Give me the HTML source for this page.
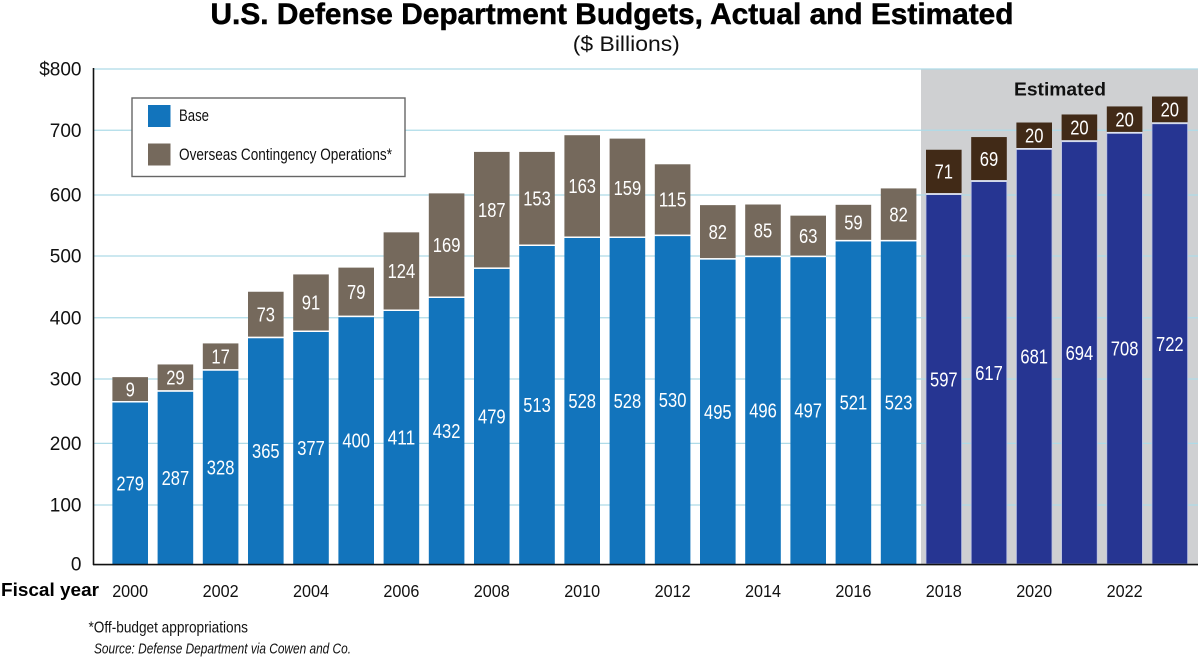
<!DOCTYPE html>
<html lang="en">
<head>
<meta charset="utf-8">
<title>U.S. Defense Department Budgets, Actual and Estimated</title>
<style>
html,body{margin:0;padding:0;background:#fff;}
svg{display:block;font-family:"Liberation Sans",Arial,sans-serif;}
</style>
</head>
<body>
<svg id="chart" xmlns="http://www.w3.org/2000/svg" width="1200" height="658" viewBox="0 0 1200 658">
  <rect x="0" y="0" width="1200" height="658" fill="#ffffff"/>
  <text x="612" y="24" text-anchor="middle" font-size="29.5" font-weight="700" fill="#000" stroke="#000" stroke-width="0.5" textLength="803" lengthAdjust="spacingAndGlyphs">U.S. Defense Department Budgets, Actual and Estimated</text>
  <text x="626.3" y="51" text-anchor="middle" font-size="21.5" fill="#111" textLength="107" lengthAdjust="spacingAndGlyphs">($ Billions)</text>
  <rect x="921" y="69" width="277" height="495" fill="#cfd0d2"/>
  <g id="grid-layer"></g>
  <g id="bar-layer"></g>
  <g id="tick-layer"></g>
  <line x1="93.5" y1="68" x2="93.5" y2="565" stroke="#111" stroke-width="1.6"/>
  <line x1="93" y1="564.6" x2="1198" y2="564.6" stroke="#111" stroke-width="1.6"/>
  <text x="1014" y="95.5" font-size="18.5" font-weight="700" fill="#111" textLength="92" lengthAdjust="spacingAndGlyphs">Estimated</text>
  <text x="1" y="596" font-size="18" font-weight="700" fill="#000" textLength="98" lengthAdjust="spacingAndGlyphs">Fiscal year</text>
  <g>
    <rect x="132" y="98" width="273" height="78.5" fill="#fff" stroke="#666" stroke-width="1.4"/>
    <rect x="148" y="105" width="22.5" height="22" fill="#1274bc"/>
    <text x="179" y="121" font-size="16.5" fill="#111" textLength="30" lengthAdjust="spacingAndGlyphs">Base</text>
    <rect x="148" y="143.500" width="22.5" height="22" fill="#75695c"/>
    <text x="179" y="160" font-size="16.5" fill="#111" textLength="213" lengthAdjust="spacingAndGlyphs">Overseas Contingency Operations*</text>
  </g>
  <text x="88.500" y="632.500" font-size="16" fill="#111" textLength="159.500" lengthAdjust="spacingAndGlyphs">*Off-budget appropriations</text>
  <text x="94" y="653.500" font-size="14.5" font-style="italic" fill="#111" textLength="257" lengthAdjust="spacingAndGlyphs">Source: Defense Department via Cowen and Co.</text>
</svg>
<script>
var years = [2000,2001,2002,2003,2004,2005,2006,2007,2008,2009,2010,2011,2012,2013,2014,2015,2016,2017,2018,2019,2020,2021,2022,2023];
var baseValues = [279,287,328,365,377,400,411,432,479,513,528,528,530,495,496,497,521,523,597,617,681,694,708,722];
var ocoValues = [9,29,17,73,91,79,124,169,187,153,163,159,115,82,85,63,59,82,71,69,20,20,20,20];
/* The source graphic draws some marks off their printed value; these are those differences, in $ billions. */
var baseDrawnDiff = [-18,-8.5,-15.5,0,-2,-1,-2,-2,-2,1,-1,-1,0,-3,0,-1,0.5,-1.5,0,1,-11,-11.5,-12,-10.5];
var ocoDrawnDiff = [32,15,27,2,2,1,3,0,2,-1,3,1.5,1,6,0,4,0,3.5,1.5,3,23.5,24,23.5,24];
var firstEstimatedYear = 2018;
var yTicks = [0,100,200,300,400,500,600,700,800];
var yTickDrawnDiff = [0,-4.6,-5,-1,-2,-2.2,-3.6,1,0];
var yTickLabels = ["0","100","200","300","400","500","600","700","$800"];
var xTickYears = [2000,2002,2004,2006,2008,2010,2012,2014,2016,2018,2020,2022];

var SVG_NS = 'http://www.w3.org/2000/svg';
var plot = {left: 93, right: 1198, y0: 564, y800: 69, firstBarX: 112.4, pitch: 45.2, barWidth: 35.6};

function yScale(v) {
  return plot.y0 - (v / 800) * (plot.y0 - plot.y800);
}
function xScale(year) {
  return plot.firstBarX + (year - years[0]) * plot.pitch;
}
function make(tag, parent, props) {
  var el = document.createElementNS(SVG_NS, tag);
  for (var k in props) { el.setAttribute(k, props[k]); }
  parent.appendChild(el);
  return el;
}

var gridLayer = document.getElementById('grid-layer');
var barLayer = document.getElementById('bar-layer');
var tickLayer = document.getElementById('tick-layer');

yTicks.forEach(function (t, i) {
  var y = yScale(t + yTickDrawnDiff[i]);
  if (t !== 0) {
    var gl = make('line', gridLayer, {x1: plot.left, x2: plot.right, y1: y, y2: y, stroke: '#aedbe8', 'stroke-width': 1.2});
    
    
  }
  var lbl = make('text', tickLayer, {x: 81.5, y: y + 6.7, 'text-anchor': 'end', 'font-size': 19, fill: '#111'});
  lbl.textContent = yTickLabels[i];
  
  
});

xTickYears.forEach(function (yr) {
  var lbl = make('text', tickLayer, {
    x: xScale(yr) + plot.barWidth / 2, y: 597, 'text-anchor': 'middle', 'font-size': 17.5, fill: '#111',
    textLength: 36, lengthAdjust: 'spacingAndGlyphs'
  });
  lbl.textContent = String(yr);
  
  
});

function barLabel(text, cx, cy) {
  var s = String(text);
  return make('text', barLayer, {
    x: cx, y: cy + 7, 'text-anchor': 'middle', 'font-size': 20, fill: '#fff',
    textLength: s.length * 9.2, lengthAdjust: 'spacingAndGlyphs'
  });
}

years.forEach(function (yr, i) {
  var est = yr >= firstEstimatedYear;
  var x = xScale(yr);
  var w = plot.barWidth;
  var cx = x + w / 2;
  var baseDrawn = baseValues[i] + baseDrawnDiff[i];
  var totalDrawn = baseDrawn + ocoValues[i] + ocoDrawnDiff[i];
  var baseTop = yScale(baseDrawn);
  var totalTop = yScale(totalDrawn);

  var baseProps = {x: x, y: baseTop, width: w, height: plot.y0 - baseTop, fill: est ? '#263592' : '#1274bc'};
  if (est) {
    baseProps.stroke = '#bcc4e4';
    baseProps['stroke-width'] = 0.8;
  }
  var baseRect = make('rect', barLayer, baseProps);
  
  

  var ocoRect = make('rect', barLayer, {x: x, y: totalTop, width: w, height: baseTop - totalTop - 1.4, fill: est ? '#412a17' : '#75695c'});
  
  

  var sep = make('rect', barLayer, {x: x, y: baseTop - 1.4, width: w, height: 1.4, fill: est ? '#dfe4f2' : '#ffffff'});
  
  

  var bl = barLabel(baseValues[i], cx, (baseTop + plot.y0) / 2);
  bl.textContent = String(baseValues[i]);
  
  

  var ol = barLabel(ocoValues[i], cx, (totalTop + baseTop) / 2 - 0.5);
  ol.textContent = String(ocoValues[i]);
  
  
});
</script>
</body>
</html>
